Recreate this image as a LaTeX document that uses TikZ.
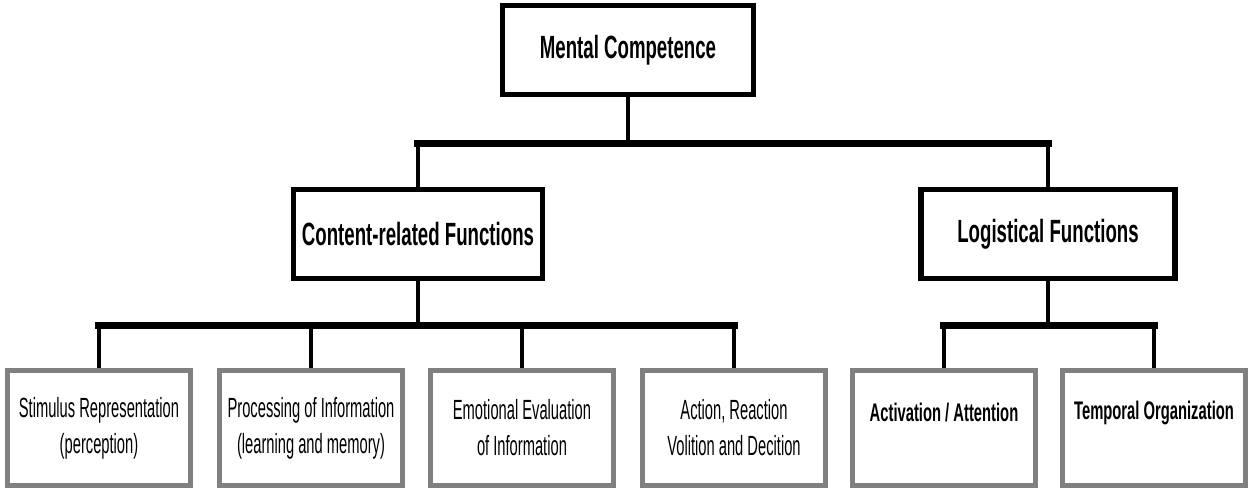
\documentclass[tikz,border=0pt]{standalone}
\usepackage{fontspec}
\setmainfont{Liberation Sans}[FakeStretch=0.58]
\newfontfamily\narrowfont{Liberation Sans}[FakeStretch=0.53]
\usetikzlibrary{positioning}

\begin{document}
\begin{tikzpicture}[
    x=0.02cm, y=-0.02cm,
    every node/.style={font=\narrowfont\fontsize{15.8}{20.5}\selectfont},
    topbox/.style={draw, line width=3.3pt, fill=white, minimum width=#1, minimum height=1.78cm,
        font=\bfseries\fontsize{18.3}{20}\selectfont},
    topbox/.default=5.02cm,
    subbox/.style={draw=gray, line width=2.8pt, fill=white, minimum width=3.66cm, minimum height=2.3cm},
    subtext/.style={align=center, inner sep=0pt},
    boldtext/.style={subtext, font=\bfseries\fontsize{14.5}{20.5}\selectfont},
    stem/.style={line width=2pt},
    bar/.style={line width=4pt, line cap=rect}
]
    \useasboundingbox (0,0) rectangle (1248,491);

    % Top level
    \node[topbox] (mental) at (628,50) {Mental Competence};

    % Second level
    \node[topbox=4.98cm] (content) at (418,234) {Content-related Functions};
    \node[topbox=5.08cm] (logistic) at (1048,234) {Logistical Functions};

    % Content-related leaves
    \node[subbox] (stimulus) at (99,428) {};
    \node[subbox] (processing) at (311,428) {};
    \node[subbox] (emotional) at (522,428) {};
    \node[subbox] (action) at (734,428) {};

    % Logistical leaves
    \node[subbox] (activation) at (944,428) {};
    \node[subbox] (temporal) at (1154,428) {};

    % Leaf texts
    \node[subtext] (stimtxt) at (stimulus.center) {Stimulus Representation\\(perception)};
    \node[subtext] (proctxt) at (processing.center) {Processing of Information\\(learning and memory)};
    \node[subtext] (emotxt) at (emotional.center) {Emotional Evaluation\\of Information};
    \node[subtext] (acttxt) at (action.center) {Action, Reaction\\Volition and Decition};
    \node[boldtext] (attntxt) at ([yshift=0.3cm]activation.center) {Activation / Attention};
    \node[boldtext] (temptxt) at ([yshift=0.3cm]temporal.center) {Temporal Organization};

    % Branch points
    \coordinate (topjoin) at (628,143.5);
    \coordinate (contentjoin) at (418,325.5);
    \coordinate (logisticjoin) at (1048,325.5);

    % Connectors
    \draw[stem] (mental.south) -- (topjoin);
    \draw[stem] (content.north |- topjoin) -- (content.north);
    \draw[stem] (logistic.north |- topjoin) -- (logistic.north);
    \draw[bar] (content.north |- topjoin) -- (logistic.north |- topjoin);

    \draw[stem] (content.south) -- (contentjoin);
    \foreach \leaf in {stimulus,processing,emotional,action}
        \draw[stem] (\leaf.north |- contentjoin) -- (\leaf.north);
    \draw[bar] (stimulus.north |- contentjoin) -- (action.north |- contentjoin);

    \draw[stem] (logistic.south) -- (logisticjoin);
    \foreach \leaf in {activation,temporal}
        \draw[stem] (\leaf.north |- logisticjoin) -- (\leaf.north);
    \draw[bar] (activation.north |- logisticjoin) -- (temporal.north |- logisticjoin);
\end{tikzpicture}
\end{document}
